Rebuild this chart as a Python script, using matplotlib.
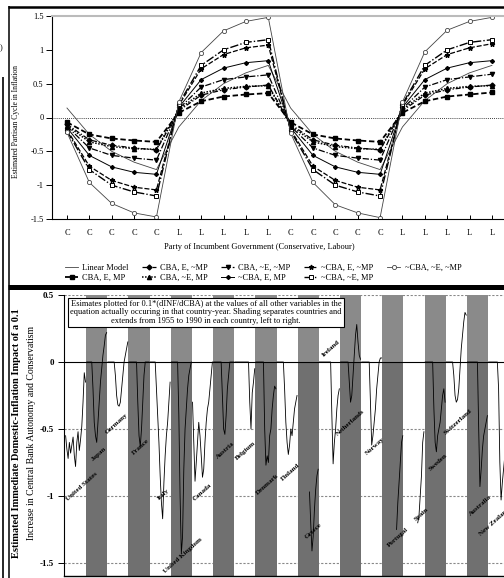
import numpy as np
import matplotlib
matplotlib.use("Agg")
import matplotlib.pyplot as plt
from matplotlib.lines import Line2D

plt.rcParams['font.family'] = ['Liberation Serif', 'DejaVu Serif']
plt.rcParams['axes.unicode_minus'] = False

W, H = 504, 578

def fx(x):
    return x / W

def fy(y):
    return 1 - y / H

################################################################
# Top panel : estimated partisan cycle
################################################################
party = ['C', 'C', 'C', 'C', 'C', 'L', 'L', 'L', 'L', 'L',
         'C', 'C', 'C', 'C', 'C', 'L', 'L', 'L', 'L', 'L']

linear_model = [0.14, -0.25, -0.50, -0.66, -0.77, -0.14, 0.25, 0.50, 0.66, 0.77,
                0.14, -0.25, -0.50, -0.66, -0.77, -0.14, 0.25, 0.50, 0.66, 0.77]
cba_e_mp = [-0.07, -0.25, -0.31, -0.34, -0.36, 0.07, 0.24, 0.31, 0.34, 0.36,
            -0.07, -0.25, -0.31, -0.34, -0.36, 0.07, 0.24, 0.31, 0.34, 0.37]
cba_e_nmp = [-0.10, -0.33, -0.41, -0.45, -0.48, 0.10, 0.33, 0.41, 0.45, 0.48,
             -0.10, -0.33, -0.41, -0.45, -0.48, 0.10, 0.33, 0.41, 0.45, 0.48]
cba_ne_mp = [-0.12, -0.36, -0.43, -0.46, -0.47, 0.12, 0.36, 0.43, 0.46, 0.47,
             -0.12, -0.36, -0.43, -0.46, -0.47, 0.12, 0.36, 0.43, 0.46, 0.47]
cba_ne_nmp = [-0.13, -0.45, -0.56, -0.60, -0.63, 0.13, 0.45, 0.56, 0.60, 0.63,
              -0.13, -0.45, -0.56, -0.60, -0.63, 0.13, 0.45, 0.56, 0.60, 0.64]
ncba_e_mp = [-0.15, -0.56, -0.73, -0.81, -0.84, 0.15, 0.56, 0.73, 0.81, 0.84,
             -0.15, -0.56, -0.73, -0.81, -0.84, 0.15, 0.56, 0.73, 0.81, 0.84]
ncba_e_nmp = [-0.18, -0.72, -0.93, -1.03, -1.07, 0.18, 0.72, 0.93, 1.03, 1.07,
              -0.18, -0.72, -0.93, -1.03, -1.07, 0.18, 0.72, 0.93, 1.03, 1.09]
ncba_ne_mp = [-0.20, -0.77, -1.00, -1.10, -1.16, 0.20, 0.77, 1.00, 1.11, 1.15,
              -0.20, -0.77, -1.00, -1.10, -1.16, 0.20, 0.77, 1.00, 1.11, 1.15]
ncba_ne_nmp = [-0.22, -0.96, -1.27, -1.41, -1.47, 0.23, 0.96, 1.28, 1.42, 1.48,
               -0.23, -0.96, -1.29, -1.41, -1.48, 0.23, 0.97, 1.29, 1.42, 1.48]

################################################################
# Bottom panel : country traces 1955-1990 (nan = no estimate)
################################################################
countries = ['United States', 'Japan', 'Germany', 'France', 'Italy',
             'United Kingdom', 'Canada', 'Austria', 'Belgium', 'Denmark',
             'Finland', 'Greece', 'Ireland', 'Netherlands', 'Norway',
             'Portugal', 'Spain', 'Sweden', 'Switzerland', 'Australia',
             'New Zealand']
nan = np.nan
traces = [
    [-0.55, -0.65, -0.72, -0.60, -0.68, -0.62, -0.56, -0.70, -0.78, -0.60, -0.52, -0.66, -0.58, -0.48, -0.30, -0.08, -0.15],
    [0, 0, 0, 0, 0, -0.20, -0.45, -0.55, -0.60, -0.45, -0.30, -0.15, -0.05, 0.05, 0.12, 0.20, 0.22],
    [0, 0, 0, 0, 0, 0, -0.10, -0.25, -0.32, -0.33, -0.30, -0.20, -0.10, 0.00, 0.05, 0.10, 0.15],
    [0, 0, 0, 0, 0, 0, 0, -0.30, -0.55, -0.63, -0.50, -0.30, -0.10, 0, 0, 0, 0],
    [0, 0, 0, 0, 0, -0.20, -0.40, -0.60, -0.85, -1.05, -1.17, -0.90, -0.70, -0.55, -0.45, -0.30, -0.15],
    [0, 0, 0, 0, 0, 0, -0.40, -1.00, -1.43, -1.30, -0.80, -0.50, -0.35, -0.20, -0.10, -0.05, 0],
    [-0.30, -0.60, -0.89, -0.75, -0.60, -0.45, -0.55, -0.70, -0.86, -0.80, -0.60, -0.45, -0.35, -0.30, -0.20, -0.10, 0],
    [0, 0, 0, 0, 0, 0, 0, -0.25, -0.50, -0.54, -0.40, -0.20, -0.10, 0, 0, 0, 0],
    [0, 0, 0, 0, 0, 0, 0, 0, 0, 0, 0, 0, -0.30, -0.50, -0.23, -0.15, -0.05],
    [0, 0, 0, 0, 0, 0, 0, -0.50, -0.77, -0.70, -0.75, -0.55, -0.50, -0.35, -0.25, -0.18, -0.20],
    [0, 0, 0, 0, 0, 0, -0.20, -0.45, -0.60, -0.69, -0.62, -0.50, -0.55, -0.45, -0.35, -0.30, -0.25],
    [nan, nan, nan, nan, nan, nan, nan, nan, nan, -0.97, -1.20, -1.41, -1.30, -1.10, -0.95, -0.85, -0.80],
    [0, 0, 0, 0, 0, 0, 0, 0, 0, 0, -0.40, -0.76, -0.60, -0.50, -0.35, -0.25, -0.20],
    [0, 0, 0, 0, 0, 0, 0, -0.15, -0.30, -0.25, -0.10, 0.05, 0.20, 0.28, 0.15, 0.05, 0.02],
    [0, 0, 0, 0, 0, 0, 0, -0.30, -0.62, -0.55, -0.45, -0.35, -0.20, -0.10, 0.00, 0.03, 0.03],
    [nan, nan, nan, nan, nan, nan, nan, nan, nan, nan, nan, -1.25, -1.05, -0.90, -0.75, -0.60, -0.55],
    [nan, nan, nan, nan, nan, nan, nan, nan, nan, nan, nan, -1.20, -1.15, -1.00, -0.85, -0.60, -0.52],
    [0, 0, 0, 0, 0, 0, 0, -0.35, -0.60, -0.67, -0.55, -0.50, -0.45, -0.35, -0.25, -0.20, -0.30],
    [0, 0, 0, 0, 0, 0, -0.10, -0.25, -0.30, -0.28, -0.20, -0.05, 0.10, 0.20, 0.30, 0.37, 0.35],
    [0, 0, 0, 0, 0, 0, 0, 0, 0, -0.50, -0.93, -0.80, -0.65, -0.55, -0.50, -0.45, -0.40],
    [0, 0, 0, 0, 0, 0, 0, 0, -0.20, -0.75, -1.03, -0.90, -0.80, -0.70, -0.60, -0.50, -0.45],
]
# label anchor (x in country units, y in plot units)
label_pos = [(0.80, -0.93), (1.61, -0.69), (2.46, -0.46), (3.59, -0.63), (4.63, -0.99),
             (5.58, -1.44), (6.48, -0.97), (7.57, -0.66), (8.56, -0.66), (9.55, -0.91),
             (10.64, -0.82), (11.73, -1.26), (12.58, 0.10), (13.48, -0.45), (14.66, -0.63),
             (15.74, -1.31), (16.83, -1.14), (17.64, -0.75), (18.58, -0.45), (19.62, -1.07),
             (20.33, -1.19)]

fig = plt.figure(figsize=(W / 100, H / 100), dpi=100)

################################################################
# Top panel
################################################################
ax1 = fig.add_axes([fx(52), fy(219), (506 - 52) / W, (219 - 16) / H])
x = np.arange(1, len(party) + 1)

ax1.plot(x, linear_model, color='#444444', lw=0.6, label='Linear Model')
ax1.plot(x, cba_e_mp, color='k', lw=1.3, ls=(0, (3, 1.5)), marker='s', ms=3, label='CBA, E, MP')
ax1.plot(x, cba_e_nmp, color='k', lw=0.9, ls=(0, (4, 1.5, 1, 1.5)), marker='D', ms=2.5, label='CBA, E, ~MP')
ax1.plot(x, cba_ne_mp, color='k', lw=1.1, ls=(0, (1, 1)), marker='^', ms=3, label='CBA, ~E, MP')
ax1.plot(x, cba_ne_nmp, color='k', lw=0.9, ls=(0, (5, 1.5, 1, 1.5)), marker='v', ms=3, label='CBA, ~E, ~MP')
ax1.plot(x, ncba_e_mp, color='k', lw=0.7, ls='-', marker='D', ms=2, label='~CBA, E, MP')
ax1.plot(x, ncba_e_nmp, color='k', lw=0.9, ls=(0, (4, 1.5)), marker='*', ms=3.5, label='~CBA, E, ~MP')
ax1.plot(x, ncba_ne_mp, color='k', lw=1.0, ls=(0, (6, 1.5, 1, 1.5)), marker='s', ms=3.5,
         mfc='white', mew=0.7, label='~CBA, ~E, MP')
ax1.plot(x, ncba_ne_nmp, color='#444444', lw=0.6, marker='o', ms=3, mfc='white', mew=0.6,
         label='~CBA, ~E, ~MP')

ax1.axhline(0, color='k', lw=0.6, ls=(0, (1, 1.5)), zorder=1)
ax1.set_xlim(0.33, 20.63)
ax1.set_ylim(-1.5, 1.5)
ax1.set_xticks(x)
ax1.set_xticklabels(party)
ax1.set_yticks([-1.5, -1, -0.5, 0, 0.5, 1, 1.5])
ax1.set_yticklabels(['-1.5', '-1', '-0.5', '0', '0.5', '1', '1.5'])
ax1.tick_params(axis='x', direction='in', length=3, pad=7, labelsize=6, width=0.7)
ax1.tick_params(axis='y', direction='out', length=4, pad=2, labelsize=6, width=0.7)
ax1.spines['right'].set_visible(False)
ax1.spines['top'].set_color('#bbbbbb')
ax1.spines['top'].set_linewidth(1.5)
ax1.spines['left'].set_linewidth(0.8)
ax1.spines['bottom'].set_linewidth(0.8)

fig.text(fx(16), fy(121), 'Estimated Partisan Cycle in Inflation', rotation=90,
         ha='center', va='center', fontsize=5.5)
fig.text(fx(259), fy(247), 'Party of Incumbent Government (Conservative, Labour)',
         ha='center', va='center', fontsize=6)

h, l = ax1.get_legend_handles_labels()
fig.legend(h, l, loc='center left', bbox_to_anchor=(fx(65), fy(273)), ncol=5,
           frameon=False, fontsize=6, handlelength=1.6, handletextpad=0.5,
           columnspacing=1.6, labelspacing=0.2, borderpad=0, borderaxespad=0)

################################################################
# Bottom panel
################################################################
ax2 = fig.add_axes([fx(64), fy(576.4), (506 - 64) / W, (576.4 - 295) / H])
ax2.set_xlim(-0.047, 20.85)
ax2.set_ylim(-1.6, 0.5)
f0 = 1.6 / 2.1
for i in range(len(countries)):
    if i % 2 == 1:
        ax2.axvspan(i, i + 1, ymin=f0, ymax=1, color='#8a8a8a', lw=0, zorder=1)
        ax2.axvspan(i, i + 1, ymin=0, ymax=f0, color='#707070', lw=0, zorder=1)
for g in [0.5, -0.5, -1, -1.5]:
    ax2.axhline(g, color='#888888', lw=0.8, ls=(0, (2, 1.5)), zorder=0.5)
ax2.axhline(0, color='k', lw=0.8, zorder=2)

for i, vals in enumerate(traces):
    xs = i + np.linspace(0.03, 0.97, len(vals))
    ax2.plot(xs, vals, color='k', lw=0.6, zorder=3)

for name, (lx, ly) in zip(countries, label_pos):
    ax2.text(lx, ly, name, rotation=42, ha='center', va='center', fontsize=5,
             fontweight='bold', zorder=4, clip_on=True)

ax2.set_xticks([])
ax2.set_yticks([0.5, 0, -0.5, -1, -1.5])
ax2.set_yticklabels(['0.5', '0', '-0.5', '-1', '-1.5'], fontweight='bold')
ax2.tick_params(axis='y', direction='out', length=4, pad=3, labelsize=6.5, width=0.7)
ax2.spines['right'].set_visible(False)
ax2.spines['top'].set_visible(False)
ax2.spines['left'].set_linewidth(0.8)
ax2.spines['bottom'].set_linewidth(1.0)

fig.text(fx(206), fy(312.5),
         'Esimates plotted for 0.1*(dINF/dCBA) at the values of all other variables in the\n'
         'equation actually occuring in that country-year. Shading separates countries and\n'
         'extends from 1955 to 1990 in each country, left to right.',
         ha='center', va='center', fontsize=6, linespacing=1.1, zorder=5,
         bbox=dict(boxstyle='square,pad=0.25', fc='white', ec='black', lw=0.8))

fig.text(fx(17), fy(433), 'Estimated Immediate Domestic-Inflation Impact of a 0.1',
         rotation=90, ha='center', va='center', fontsize=7.5, fontweight='bold')
fig.text(fx(32), fy(433), 'Increase in Central Bank Autonomy and Conservatism',
         rotation=90, ha='center', va='center', fontsize=7)

################################################################
# Page frames (scan)
################################################################
def frame_line(x0, y0, x1, y1, lw):
    fig.add_artist(Line2D([fx(x0), fx(x1)], [fy(y0), fy(y1)], transform=fig.transFigure,
                          color='k', lw=lw, solid_capstyle='butt'))

frame_line(8, 7, 504, 7, 1.8)
frame_line(8.5, 6, 8.5, 578, 1.1)
frame_line(8, 287, 504, 287, 3.6)
frame_line(2.5, 77, 2.5, 578, 1.2)
fig.text(fx(0), fy(48), ')', ha='left', va='center', fontsize=6)

fig.savefig('out.png', dpi=100)
